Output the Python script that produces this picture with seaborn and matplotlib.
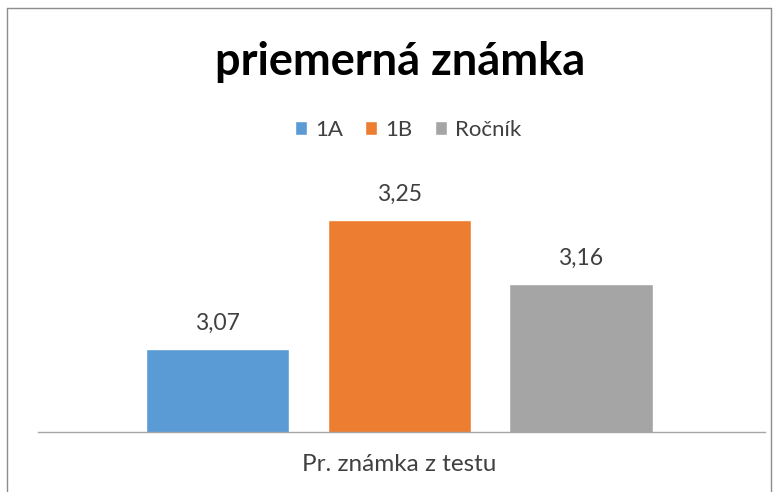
import pandas as pd
import matplotlib.pyplot as plt
import seaborn as sns
from matplotlib.lines import Line2D
from matplotlib.patches import Patch

# hodnoty z grafu
kategoria = ["Pr. známka z testu"]
serie = ["1A", "1B", "Ročník"]
hodnoty = [3.07, 3.25, 3.16]
farby = ["#5B9BD5", "#ED7D31", "#A5A5A5"]

df = pd.DataFrame({"skupina": kategoria * len(serie), "seria": serie, "hodnota": hodnoty})

sns.set_style("white")
plt.rcParams["font.family"] = ["Lato", "DejaVu Sans"]

fig = plt.figure(figsize=(7.81, 4.92), dpi=100)
ax = fig.add_axes([38 / 781, 60 / 492, 727 / 781, 251 / 492])

sns.barplot(data=df, x="skupina", y="hodnota", hue="seria", palette=farby,
            width=0.75, gap=0.21, ax=ax, legend=False, saturation=1)

for cont in ax.containers:
    ax.bar_label(cont, labels=[f"{v:.2f}".replace(".", ",") for v in cont.datavalues],
                 padding=11, fontsize=16.5, color="#404040")

ax.set_ylim(2.954, 3.304)
ax.set_xlim(-0.497, 0.503)
ax.set_xlabel("")
ax.set_ylabel("")
ax.set_yticks([])
ax.tick_params(axis="x", length=0, labelsize=17.5, labelcolor="#404040", pad=16)
for s in ["top", "right", "left"]:
    ax.spines[s].set_visible(False)
ax.spines["bottom"].set_color("#a6a6a6")
ax.spines["bottom"].set_linewidth(1)

fig.text(400 / 781, 1 - 62 / 492, "priemerná známka", ha="center", va="center",
         fontsize=32.5, fontweight="bold", color="#000000")

handles = [Patch(facecolor=c, label=s) for c, s in zip(farby, serie)]
fig.legend(handles=handles, loc="center", bbox_to_anchor=(408 / 781, 1 - 130 / 492),
           ncol=3, frameon=False, fontsize=16, handlelength=0.55, handleheight=0.55,
           handletextpad=0.35, columnspacing=1.0, labelcolor="#404040")

# ramcek grafu
sivá = "#8c8c8c"
fig.add_artist(Line2D([7 / 781, 771 / 781], [1 - 8 / 492, 1 - 8 / 492], color=sivá, lw=1))
fig.add_artist(Line2D([7 / 781, 7 / 781], [0, 1 - 8 / 492], color=sivá, lw=1))
fig.add_artist(Line2D([771 / 781, 771 / 781], [0, 1 - 8 / 492], color=sivá, lw=1))

fig.savefig("out.png", dpi=100)
